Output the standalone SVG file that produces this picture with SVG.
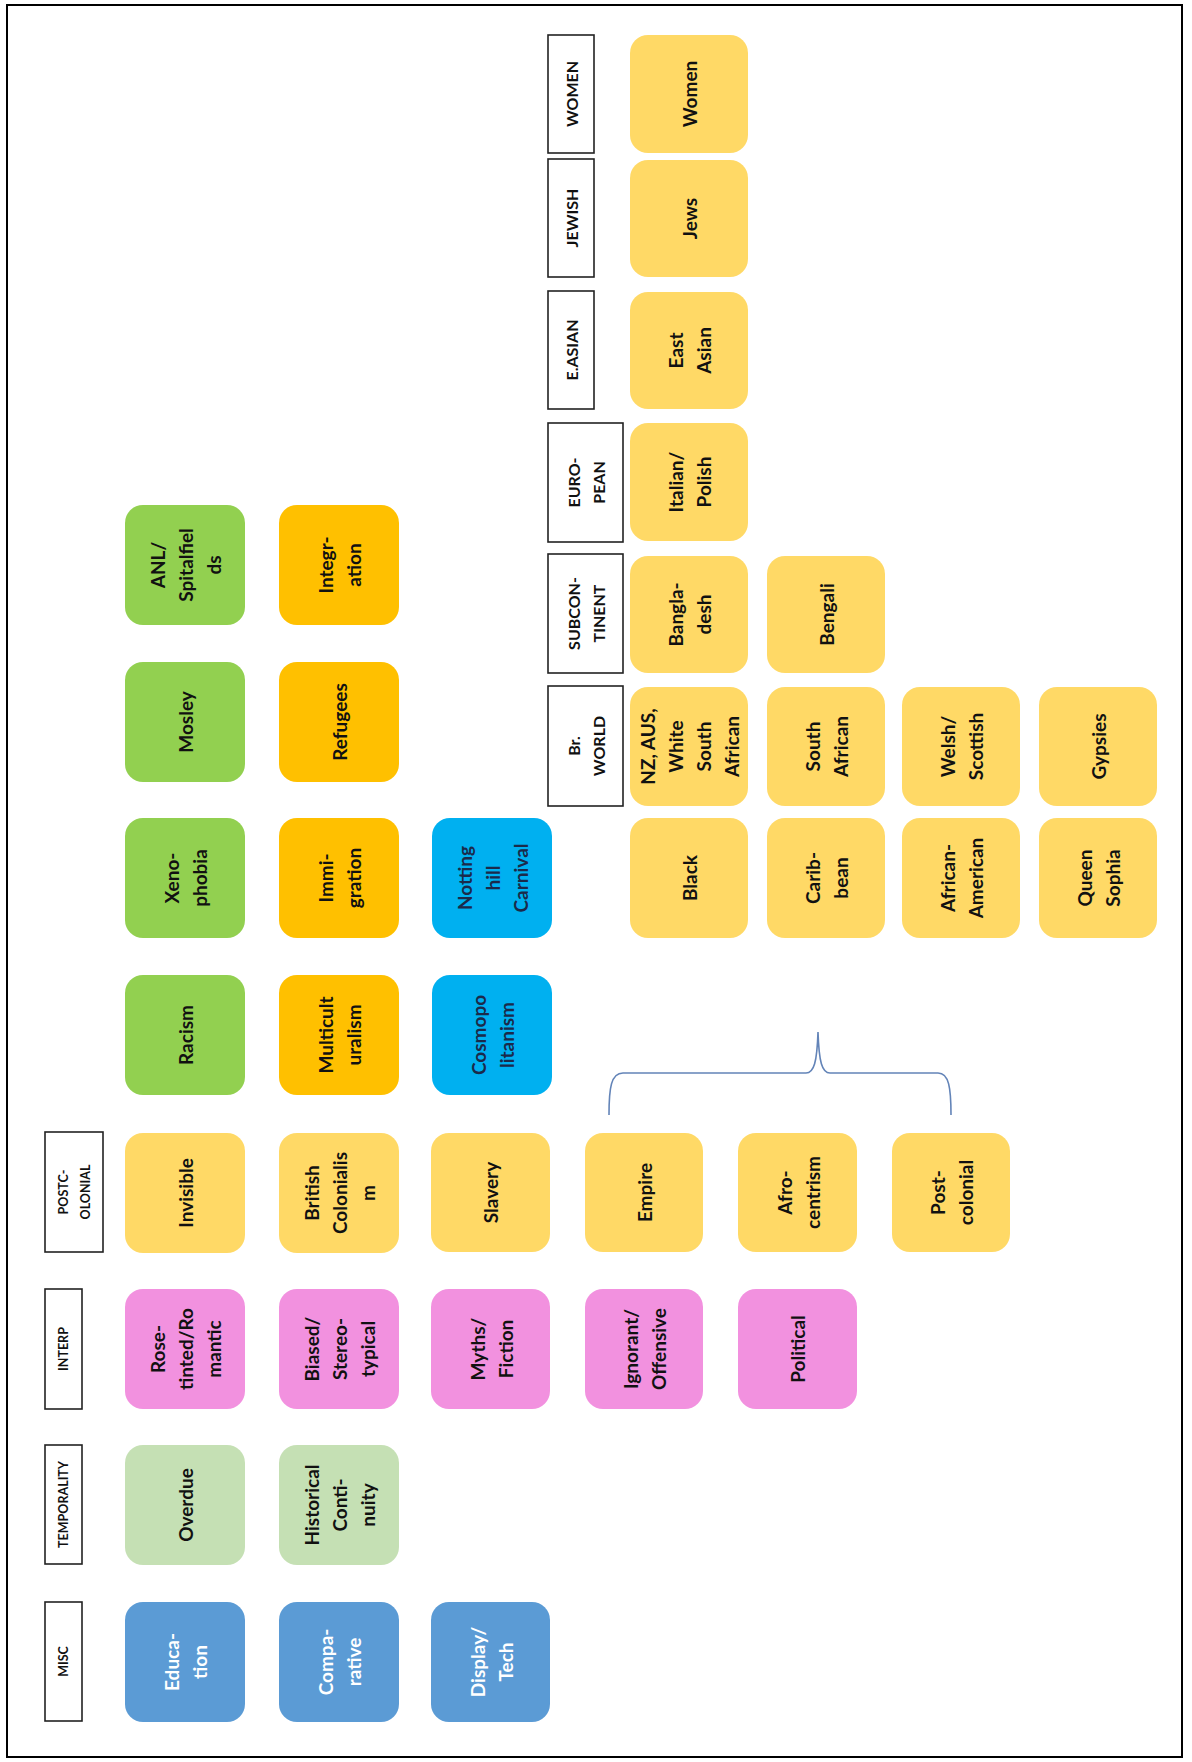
<svg xmlns="http://www.w3.org/2000/svg" width="1192" height="1762" viewBox="0 0 1192 1762">
<style>
.bx{rx:18px;ry:18px}
.hd{fill:#fff;stroke:#222;stroke-width:1.6}
.t{font-family:Lato,"Open Sans","Liberation Sans",sans-serif;font-weight:700;font-size:19px;text-anchor:middle;dominant-baseline:central;fill:#111}
.h1{font-family:Lato,"Open Sans","Liberation Sans",sans-serif;font-weight:700;font-size:12.5px;text-anchor:middle;dominant-baseline:central;fill:#111}
.h2{font-family:Lato,"Open Sans","Liberation Sans",sans-serif;font-weight:700;font-size:16px;text-anchor:middle;dominant-baseline:central;fill:#111}
.g{fill:#92D050}.o{fill:#FFC000}.c{fill:#00B0F0}.y{fill:#FFD966}.p{fill:#F291DF}.lg{fill:#C5E0B4}.b{fill:#5B9BD5}
.w{fill:#fff}.n{fill:#1b2a4a}
</style>
<rect x="7" y="5" width="1175" height="1752" fill="#fff" stroke="#000" stroke-width="2"/>

<!-- left headers -->
<g id="h-misc"><rect class="hd" x="45" y="1602" width="37" height="119"/><text class="h1" transform="translate(63.5,1661.5) rotate(-90)">MISC</text></g>
<g id="h-temporality"><rect class="hd" x="45" y="1445" width="37" height="119"/><text class="h1" transform="translate(63.5,1504.5) rotate(-90)">TEMPORALITY</text></g>
<g id="h-interp"><rect class="hd" x="45" y="1289" width="37" height="120"/><text class="h1" transform="translate(63.5,1349) rotate(-90)">INTERP</text></g>
<g id="h-postcolonial"><rect class="hd" x="45" y="1132" width="58" height="120"/><text class="h1" transform="translate(74,1192) rotate(-90)"><tspan x="0" y="-11">POSTC-</tspan><tspan x="0" y="11">OLONIAL</tspan></text></g>

<!-- right headers -->
<g id="h-brworld"><rect class="hd" x="548" y="686" width="75" height="120"/><text class="h2" transform="translate(585.5,746) rotate(-90)"><tspan x="0" y="-12.5">Br.</tspan><tspan x="0" y="12.5">WORLD</tspan></text></g>
<g id="h-subcontinent"><rect class="hd" x="548" y="554" width="75" height="119"/><text class="h2" transform="translate(585.5,613.5) rotate(-90)"><tspan x="0" y="-12.5">SUBCON-</tspan><tspan x="0" y="12.5">TINENT</tspan></text></g>
<g id="h-european"><rect class="hd" x="548" y="423" width="75" height="119"/><text class="h2" transform="translate(585.5,482.5) rotate(-90)"><tspan x="0" y="-12.5">EURO-</tspan><tspan x="0" y="12.5">PEAN</tspan></text></g>
<g id="h-easian"><rect class="hd" x="548" y="291" width="46" height="118"/><text class="h2" transform="translate(571,350) rotate(-90)">E.ASIAN</text></g>
<g id="h-jewish"><rect class="hd" x="548" y="159" width="46" height="118"/><text class="h2" transform="translate(571,218) rotate(-90)">JEWISH</text></g>
<g id="h-women"><rect class="hd" x="548" y="35" width="46" height="118"/><text class="h2" transform="translate(571,94) rotate(-90)">WOMEN</text></g>

<!-- row 1 -->
<g id="n-anl"><rect class="bx g" x="125" y="505" width="120" height="120"/><text class="t" transform="translate(185,565) rotate(-90)"><tspan x="0" y="-28">ANL/</tspan><tspan x="0" y="0">Spitalfiel</tspan><tspan x="0" y="28">ds</tspan></text></g>
<g id="n-mosley"><rect class="bx g" x="125" y="662" width="120" height="120"/><text class="t" transform="translate(185,722) rotate(-90)">Mosley</text></g>
<g id="n-xeno"><rect class="bx g" x="125" y="818" width="120" height="120"/><text class="t" transform="translate(185,878) rotate(-90)"><tspan x="0" y="-14">Xeno-</tspan><tspan x="0" y="14">phobia</tspan></text></g>
<g id="n-racism"><rect class="bx g" x="125" y="975" width="120" height="120"/><text class="t" transform="translate(185,1035) rotate(-90)">Racism</text></g>
<g id="n-invisible"><rect class="bx y" x="125" y="1133" width="120" height="120"/><text class="t" transform="translate(185,1193) rotate(-90)">Invisible</text></g>
<g id="n-rose"><rect class="bx p" x="125" y="1289" width="120" height="120"/><text class="t" transform="translate(185,1349) rotate(-90)"><tspan x="0" y="-28">Rose-</tspan><tspan x="0" y="0">tinted/Ro</tspan><tspan x="0" y="28">mantic</tspan></text></g>
<g id="n-overdue"><rect class="bx lg" x="125" y="1445" width="120" height="120"/><text class="t" transform="translate(185,1505) rotate(-90)">Overdue</text></g>
<g id="n-education"><rect class="bx b" x="125" y="1602" width="120" height="120"/><text class="t w" transform="translate(185,1662) rotate(-90)"><tspan x="0" y="-14">Educa-</tspan><tspan x="0" y="14">tion</tspan></text></g>

<!-- row 2 -->
<g id="n-integration"><rect class="bx o" x="279" y="505" width="120" height="120"/><text class="t" transform="translate(339,565) rotate(-90)"><tspan x="0" y="-14">Integr-</tspan><tspan x="0" y="14">ation</tspan></text></g>
<g id="n-refugees"><rect class="bx o" x="279" y="662" width="120" height="120"/><text class="t" transform="translate(339,722) rotate(-90)">Refugees</text></g>
<g id="n-immigration"><rect class="bx o" x="279" y="818" width="120" height="120"/><text class="t" transform="translate(339,878) rotate(-90)"><tspan x="0" y="-14">Immi-</tspan><tspan x="0" y="14">gration</tspan></text></g>
<g id="n-multicult"><rect class="bx o" x="279" y="975" width="120" height="120"/><text class="t" transform="translate(339,1035) rotate(-90)"><tspan x="0" y="-14">Multicult</tspan><tspan x="0" y="14">uralism</tspan></text></g>
<g id="n-britcol"><rect class="bx y" x="279" y="1133" width="120" height="120"/><text class="t" transform="translate(339,1193) rotate(-90)"><tspan x="0" y="-28">British</tspan><tspan x="0" y="0">Colonialis</tspan><tspan x="0" y="28">m</tspan></text></g>
<g id="n-biased"><rect class="bx p" x="279" y="1289" width="120" height="120"/><text class="t" transform="translate(339,1349) rotate(-90)"><tspan x="0" y="-28">Biased/</tspan><tspan x="0" y="0">Stereo-</tspan><tspan x="0" y="28">typical</tspan></text></g>
<g id="n-historical"><rect class="bx lg" x="279" y="1445" width="120" height="120"/><text class="t" transform="translate(339,1505) rotate(-90)"><tspan x="0" y="-28">Historical</tspan><tspan x="0" y="0">Conti-</tspan><tspan x="0" y="28">nuity</tspan></text></g>
<g id="n-comparative"><rect class="bx b" x="279" y="1602" width="120" height="120"/><text class="t w" transform="translate(339,1662) rotate(-90)"><tspan x="0" y="-14">Compa-</tspan><tspan x="0" y="14">rative</tspan></text></g>

<!-- row 3 -->
<g id="n-notting"><rect class="bx c" x="432" y="818" width="120" height="120"/><text class="t n" transform="translate(492,878) rotate(-90)"><tspan x="0" y="-28">Notting</tspan><tspan x="0" y="0">hill</tspan><tspan x="0" y="28">Carnival</tspan></text></g>
<g id="n-cosmo"><rect class="bx c" x="432" y="975" width="120" height="120"/><text class="t n" transform="translate(492,1035) rotate(-90)"><tspan x="0" y="-14">Cosmopo</tspan><tspan x="0" y="14">litanism</tspan></text></g>
<g id="n-slavery"><rect class="bx y" x="431" y="1133" width="119" height="119"/><text class="t" transform="translate(490.5,1192.5) rotate(-90)">Slavery</text></g>
<g id="n-myths"><rect class="bx p" x="431" y="1289" width="119" height="120"/><text class="t" transform="translate(490.5,1349) rotate(-90)"><tspan x="0" y="-14">Myths/</tspan><tspan x="0" y="14">Fiction</tspan></text></g>
<g id="n-display"><rect class="bx b" x="431" y="1602" width="119" height="120"/><text class="t w" transform="translate(490.5,1662) rotate(-90)"><tspan x="0" y="-14">Display/</tspan><tspan x="0" y="14">Tech</tspan></text></g>

<!-- row 4-6 -->
<g id="n-empire"><rect class="bx y" x="585" y="1133" width="118" height="119"/><text class="t" transform="translate(644,1192.5) rotate(-90)">Empire</text></g>
<g id="n-ignorant"><rect class="bx p" x="585" y="1289" width="118" height="120"/><text class="t" transform="translate(644,1349) rotate(-90)"><tspan x="0" y="-14">Ignorant/</tspan><tspan x="0" y="14">Offensive</tspan></text></g>
<g id="n-afro"><rect class="bx y" x="738" y="1133" width="119" height="119"/><text class="t" transform="translate(797.5,1192.5) rotate(-90)"><tspan x="0" y="-14">Afro-</tspan><tspan x="0" y="14">centrism</tspan></text></g>
<g id="n-political"><rect class="bx p" x="738" y="1289" width="119" height="120"/><text class="t" transform="translate(797.5,1349) rotate(-90)">Political</text></g>
<g id="n-postcolonial"><rect class="bx y" x="892" y="1133" width="118" height="119"/><text class="t" transform="translate(951,1192.5) rotate(-90)"><tspan x="0" y="-14">Post-</tspan><tspan x="0" y="14">colonial</tspan></text></g>

<!-- right group col 1 -->
<g id="n-women"><rect class="bx y" x="630" y="35" width="118" height="118"/><text class="t" transform="translate(689,94) rotate(-90)">Women</text></g>
<g id="n-jews"><rect class="bx y" x="630" y="160" width="118" height="117"/><text class="t" transform="translate(689,218.5) rotate(-90)">Jews</text></g>
<g id="n-eastasian"><rect class="bx y" x="630" y="292" width="118" height="117"/><text class="t" transform="translate(689,350.5) rotate(-90)"><tspan x="0" y="-14">East</tspan><tspan x="0" y="14">Asian</tspan></text></g>
<g id="n-italian"><rect class="bx y" x="630" y="423" width="118" height="118"/><text class="t" transform="translate(689,482) rotate(-90)"><tspan x="0" y="-14">Italian/</tspan><tspan x="0" y="14">Polish</tspan></text></g>
<g id="n-bangladesh"><rect class="bx y" x="630" y="556" width="118" height="117"/><text class="t" transform="translate(689,614.5) rotate(-90)"><tspan x="0" y="-14">Bangla-</tspan><tspan x="0" y="14">desh</tspan></text></g>
<g id="n-nz"><rect class="bx y" x="630" y="687" width="118" height="119"/><text class="t" transform="translate(689,746.5) rotate(-90)"><tspan x="0" y="-42">NZ, AUS,</tspan><tspan x="0" y="-14">White</tspan><tspan x="0" y="14">South</tspan><tspan x="0" y="42">African</tspan></text></g>
<g id="n-black"><rect class="bx y" x="630" y="818" width="118" height="120"/><text class="t" transform="translate(689,878) rotate(-90)">Black</text></g>

<!-- right group col 2-4 -->
<g id="n-bengali"><rect class="bx y" x="767" y="556" width="118" height="117"/><text class="t" transform="translate(826,614.5) rotate(-90)">Bengali</text></g>
<g id="n-southafrican"><rect class="bx y" x="767" y="687" width="118" height="119"/><text class="t" transform="translate(826,746.5) rotate(-90)"><tspan x="0" y="-14">South</tspan><tspan x="0" y="14">African</tspan></text></g>
<g id="n-caribbean"><rect class="bx y" x="767" y="818" width="118" height="120"/><text class="t" transform="translate(826,878) rotate(-90)"><tspan x="0" y="-14">Carib-</tspan><tspan x="0" y="14">bean</tspan></text></g>
<g id="n-welsh"><rect class="bx y" x="902" y="687" width="118" height="119"/><text class="t" transform="translate(961,746.5) rotate(-90)"><tspan x="0" y="-14">Welsh/</tspan><tspan x="0" y="14">Scottish</tspan></text></g>
<g id="n-africanamerican"><rect class="bx y" x="902" y="818" width="118" height="120"/><text class="t" transform="translate(961,878) rotate(-90)"><tspan x="0" y="-14">African-</tspan><tspan x="0" y="14">American</tspan></text></g>
<g id="n-gypsies"><rect class="bx y" x="1039" y="687" width="118" height="119"/><text class="t" transform="translate(1098,746.5) rotate(-90)">Gypsies</text></g>
<g id="n-queensophia"><rect class="bx y" x="1039" y="818" width="118" height="120"/><text class="t" transform="translate(1098,878) rotate(-90)"><tspan x="0" y="-14">Queen</tspan><tspan x="0" y="14">Sophia</tspan></text></g>

<!-- connectors -->
<g id="connectors" fill="none" stroke="#6384b8" stroke-width="1.6">
<path d="M609,1115 C609,1088 611,1073 623,1073 L806,1073 C814,1073 817,1062 818,1032 C819,1062 822,1073 830,1073 L938,1073 C949,1073 951,1088 951,1115"/>
</g>
</svg>
